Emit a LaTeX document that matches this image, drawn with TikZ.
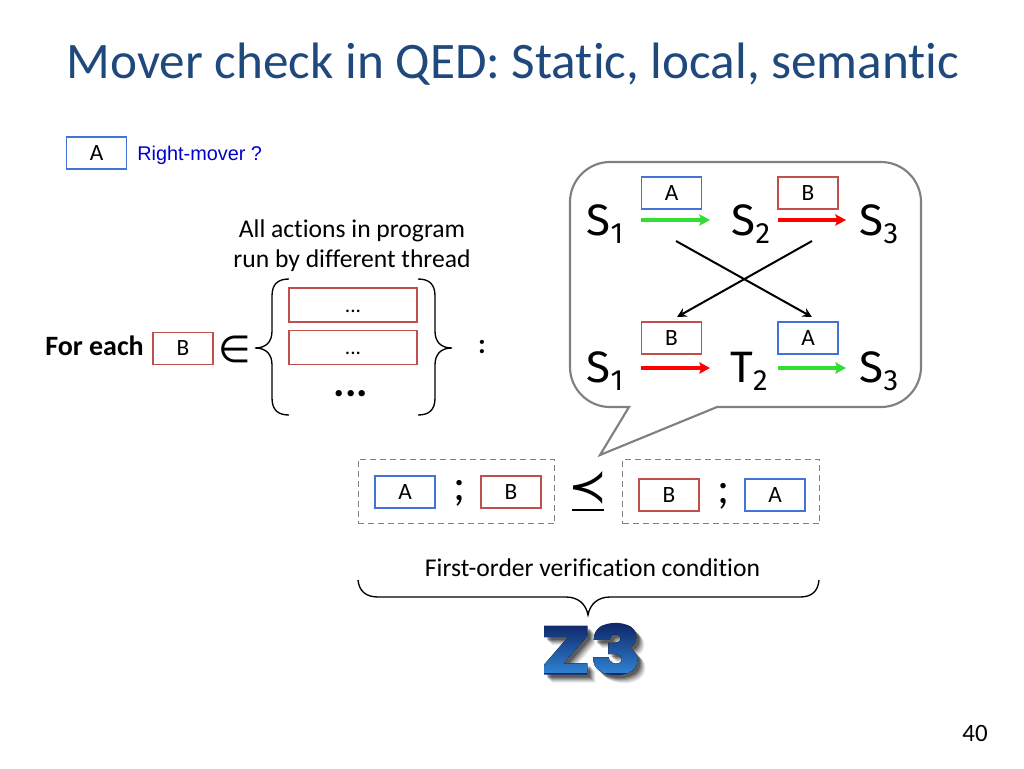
\documentclass[tikz,border=0pt]{standalone}
\usepackage{fontspec}
\setmainfont[Ligatures=NoCommon]{Carlito}
\newfontfamily\arialfont{Liberation Sans}
\newfontfamily\handfont{Fira Sans}
\newfontfamily\symfont{DejaVu Sans}
\newfontfamily\zfont[FakeBold=3,FakeStretch=1.25]{Poppins Bold}
\usetikzlibrary{arrows.meta,fadings}
\definecolor{titleblue}{HTML}{1F497D}
\definecolor{boxblue}{HTML}{4472D8}
\definecolor{boxred}{HTML}{C0504D}
\definecolor{arrgreen}{HTML}{33DD33}
\definecolor{bubblegray}{HTML}{808080}
\definecolor{dashgray}{HTML}{808080}
\definecolor{ztop}{HTML}{10296B}
\definecolor{zbot}{HTML}{2F80D0}
\begin{tikzfadingfrompicture}[name=zfade]
\node[text=transparent!0,inner sep=0pt] {\fontsize{50}{50}\zfont Z3};
\end{tikzfadingfrompicture}
\newcommand{\stt}[2]{#1\raisebox{-6pt}{\fontsize{22}{24}\selectfont #2}}
\tikzset{
  x=0.75pt,y=-0.75pt,
  absbox/.style={draw,line width=1.3pt,minimum width=45pt,minimum height=24pt,inner sep=0pt,font=\fontsize{17.5}{18}\selectfont,text=black},
  ablue/.style={absbox,draw=boxblue},
  bred/.style={absbox,draw=boxred},
  listbox/.style={draw=boxred,line width=1.3pt,minimum width=96pt,minimum height=25.5pt,inner sep=0pt},
  dashbox/.style={draw=dashgray,line width=0.9pt,dash pattern=on 4.5pt off 3pt,minimum width=147.5pt,minimum height=48.5pt,inner sep=0pt},
  state/.style={inner sep=0pt,font=\handfont\fontsize{33}{36}\selectfont,text=black},
  body/.style={font=\fontsize{19.2}{22.5}\selectfont,align=center,inner sep=0pt},
  mv/.style={-{Stealth[length=8pt,width=8.5pt,inset=1.5pt]},line width=2.4pt},
  cross/.style={-{Stealth[length=7pt,width=7pt]},line width=1.5pt,black},
  curly/.style={line width=1pt,black},
}
\begin{document}
\begin{tikzpicture}
\useasboundingbox (0,0) rectangle (1024,768);
\fill[white] (0,0) rectangle (1024,768);
\node[anchor=center,text=titleblue,font=\fontsize{38.4}{42}\selectfont,inner sep=0pt] (title) at (513,64) {Mover check in QED: Static, local, semantic};

% legend
\node[ablue] (legA) at (96.5,153) {A};
\node[anchor=west,inner sep=0pt,text=blue!80!black,font=\arialfont\fontsize{14.9}{17}\selectfont] (legT) at (137,155.5) {Right-mover ?};

% bubble
\draw[bubblegray,line width=1.6pt,fill=white,rounded corners=0pt] 
  (610,162) -- (881,162) .. controls (903,162) and (921,180) .. (921,202)
  -- (921,367) .. controls (921,389) and (903,407) .. (881,407)
  -- (717,407) -- (600,455) -- (629,407) -- (610,407)
  .. controls (588,407) and (570,389) .. (570,367) -- (570,202)
  .. controls (570,180) and (588,162) .. (610,162) -- cycle;

\node[ablue] (ta) at (671.5,193) {A};
\node[bred] (tb) at (808,193) {B};
\node[bred] (bb) at (671.5,338) {B};
\node[ablue] (ba) at (808,338) {A};

\node[state] (s1) at (605,224) {\stt{S}{1}};
\node[state] (s2) at (751,224) {\stt{S}{2}};
\node[state] (s3) at (879,224) {\stt{S}{3}};
\node[state] (u1) at (605,371.5) {\stt{S}{1}};
\node[state] (t2) at (749,371.5) {\stt{T}{2}};
\node[state] (u3) at (879,371.5) {\stt{S}{3}};

\coordinate (g1a) at (641,220); \coordinate (g1b) at (710,220);
\coordinate (r1a) at (778,220); \coordinate (r1b) at (846,220);
\coordinate (r2a) at (641,368); \coordinate (r2b) at (710,368);
\coordinate (g2a) at (778,368); \coordinate (g2b) at (846,368);
\draw[mv,arrgreen] (g1a) -- (g1b);
\draw[mv,red] (r1a) -- (r1b);
\draw[mv,red] (r2a) -- (r2b);
\draw[mv,arrgreen] (g2a) -- (g2b);

\coordinate (xa) at (676,241); \coordinate (xb) at (812,317);
\coordinate (xc) at (812,241); \coordinate (xd) at (677,317);
\draw[cross] (xa) -- (xb);
\draw[cross] (xc) -- (xd);

% for each
\node[body] (allact) at (352,246) {All actions in program\\run by different thread};
\node[anchor=west,inner sep=0pt,font=\bfseries\fontsize{21}{24}\selectfont] (foreach) at (45,345.5) {For each};
\node[bred] (fb) at (183,348.5) {B};
\node[inner sep=0pt,font=\symfont\fontsize{28}{30}\selectfont] (in) at (235,349.5) {∈};
\node[listbox] (l1) at (353,305) {};
\node[inner sep=0pt,font=\fontsize{16}{18}\selectfont] (l1t) at (353,311) {...};
\node[listbox] (l2) at (353,347.5) {};
\node[inner sep=0pt,font=\fontsize{16}{18}\selectfont] (l2t) at (353,353) {...};
\node[inner sep=0pt,font=\bfseries\fontsize{32}{34}\selectfont] (l3t) at (351,394) {...};
\draw[curly] (289,279) .. controls (278,279) and (272,284) .. (272,296)
  -- (272,331) .. controls (272,342) and (266,348) .. (255,348)
  .. controls (266,348) and (272,354) .. (272,365)
  -- (272,398) .. controls (272,410) and (278,415) .. (289,415);
\draw[curly] (418,279) .. controls (429,279) and (435,284) .. (435,296)
  -- (435,331) .. controls (435,342) and (441,348) .. (452,348)
  .. controls (441,348) and (435,354) .. (435,365)
  -- (435,398) .. controls (435,410) and (429,415) .. (418,415);
\node[inner sep=0pt,font=\bfseries\fontsize{21}{24}\selectfont] (colon) at (482,347) {:};

% bottom row
\node[dashbox] (dl) at (456.5,491.5) {};
\node[dashbox] (dr) at (721,491.5) {};
\node[ablue] (la) at (405,492) {A};
\node[inner sep=0pt,font=\fontsize{34}{36}\selectfont] (lsemi) at (460,493) {;};
\node[bred] (lb) at (511,492) {B};
\node[inner sep=0pt,font=\symfont\fontsize{35}{37}\selectfont] (prec) at (588,488) {≺};
\coordinate (barl) at (572,510); \coordinate (barr) at (604,510);
\draw[black,line width=2.2pt] (barl) -- (barr);
\node[bred] (rb) at (669,495) {B};
\node[inner sep=0pt,font=\fontsize{34}{36}\selectfont] (rsemi) at (724,496) {;};
\node[ablue] (ra) at (775,495) {A};

\node[body] (fo) at (592.5,568) {First-order verification condition};
\draw[curly] (358,580) .. controls (359,591) and (366,597) .. (378,597)
  -- (566,597) .. controls (578,597) and (586,604) .. (588,615)
  .. controls (590,604) and (598,597) .. (610,597)
  -- (800,597) .. controls (812,597) and (818,591) .. (819,580);

% Z3 logo
\foreach \d/\o in {8/0.08,7/0.1,6/0.12,5/0.16,4/0.2,3/0.25}{
  \fill[black,opacity=\o,path fading=zfade,fit fading=false,fading transform={shift={(591+\d,649+\d)}}] (520,610) rectangle (670,690);
}
\node[inner sep=0pt,text=ztop] (zlogo) at (591,649) {\fontsize{50}{50}\zfont Z3};
\fill[path fading=zfade,fit fading=false,fading transform={shift={(591,649)}},top color=ztop,bottom color=zbot] (540,625) rectangle (645,672);

\node[inner sep=0pt,font=\fontsize{18.7}{20}\selectfont] (page) at (975,733) {40};
\end{tikzpicture}
\end{document}
